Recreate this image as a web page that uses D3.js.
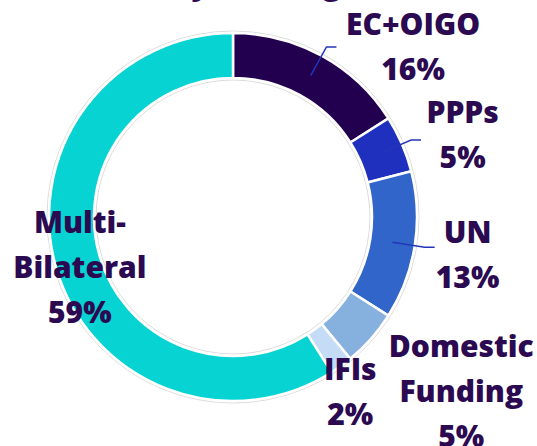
<!DOCTYPE html>
<html>
<head>
<meta charset="utf-8">
<script src="https://cdn.jsdelivr.net/npm/d3@7/dist/d3.min.js"></script>
<style>
  html, body { margin: 0; padding: 0; background: #fff; }
  svg { display: block; font-family: "Open Sans", "Noto Sans", sans-serif; }
</style>
</head>
<body>
<div id="chart"></div>
<script>
// data
const categories = ["EC+OIGO", "PPPs", "UN", "Domestic Funding", "IFIs", "Multi-Bilateral"];
const labelLines = [["EC+OIGO"], ["PPPs"], ["UN"], ["Domestic", "Funding"], ["IFIs"], ["Multi-", "Bilateral"]];
const shares = [16, 5, 13, 5, 2, 59];
const colors = ["#23004f", "#1f30bf", "#3165c9", "#86b1df", "#c4dcf6", "#07d3d3"];
const title = "Portfolio by Funding Source";

// label placement (polar, degrees clockwise from 12 o'clock)
const labelAngle = [44.7, 67.8, 96.3, 121.6, 144.3, 264];
const labelRadius = [256, 248, 236, 268, 201, 154];
const hasLeader = [true, true, true, false, false, false];

const width = 537, height = 446;
const cx = 233, cy = 217;
const outerR = 184, innerR = 139;
const lineGap = 45;
const textColor = "#2b0a52";

const svg = d3.select("#chart").append("svg")
  .attr("width", width)
  .attr("height", height);

// title, mostly clipped above the view
svg.append("text")
  .attr("x", 241)
  .attr("y", -5)
  .attr("text-anchor", "middle")
  .attr("font-size", 30)
  .attr("font-weight", 800)
  .attr("fill", textColor)
  .text(title);

const g = svg.append("g").attr("transform", `translate(${cx},${cy})`);

const pie = d3.pie().sort(null).value(d => d.value);
const arcs = pie(categories.map((c, i) => ({ name: c, value: shares[i], i })));

const arc = d3.arc().innerRadius(innerR).outerRadius(outerR);

// faint rim behind the ring
g.append("path")
  .attr("d", d3.arc().innerRadius(innerR - 2).outerRadius(outerR + 2).startAngle(0).endAngle(2 * Math.PI)())
  .attr("fill", "#fff")
  .attr("stroke", "#dcdcdc")
  .attr("stroke-width", 1);

g.selectAll(".slice")
  .data(arcs)
  .enter()
  .append("path")
  .attr("class", "slice")
  .attr("d", arc)
  .attr("fill", d => colors[d.data.i])
  .attr("stroke", "#fff")
  .attr("stroke-width", 2.5);

// leader lines
const polar = (a, r) => [r * Math.sin(a), -r * Math.cos(a)];
g.selectAll(".leader")
  .data(arcs.filter(d => hasLeader[d.data.i]))
  .enter()
  .append("path")
  .attr("class", "leader")
  .attr("fill", "none")
  .attr("stroke", "#2236b8")
  .attr("stroke-width", 1.5)
  .attr("d", d => {
    const m = (d.startAngle + d.endAngle) / 2;
    const p0 = arc.centroid(d);
    const p1 = polar(m, 194);
    return `M${p0[0]},${p0[1]}L${p1[0]},${p1[1]}L${p1[0] + 10},${p1[1]}`;
  });

// labels
const labels = g.selectAll(".label")
  .data(arcs)
  .enter()
  .append("text")
  .attr("class", "label")
  .attr("text-anchor", "middle")
  .attr("font-size", 30)
  .attr("font-weight", 800)
  .attr("fill", textColor)
  .attr("transform", d => {
    const p = polar(labelAngle[d.data.i] * Math.PI / 180, labelRadius[d.data.i]);
    return `translate(${p[0]},${p[1]})`;
  });

labels.each(function (d) {
  const t = d3.select(this);
  const lines = labelLines[d.data.i].concat([d.data.value + "%"]);
  lines.forEach((s, k) => {
    t.append("tspan").attr("x", 0).attr("y", k * lineGap).text(s);
  });
});
</script>
</body>
</html>
